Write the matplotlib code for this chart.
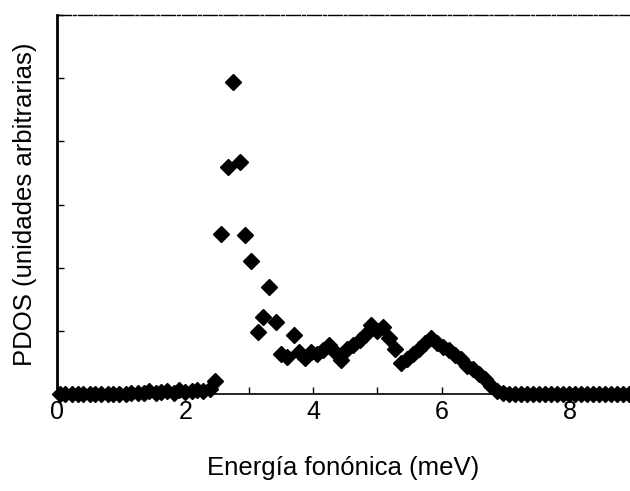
import matplotlib
matplotlib.use('Agg')
import matplotlib.pyplot as plt
from matplotlib.ticker import MultipleLocator

plt.rcParams['font.family'] = ['Liberation Sans', 'DejaVu Sans']

# ---- data (energy in meV, PDOS in arbitrary units) ----
energy = [
    0.04, 0.13, 0.23, 0.32, 0.41, 0.51, 0.60, 0.69, 0.79, 0.88,
    0.97, 1.07, 1.16, 1.26, 1.35, 1.44, 1.54, 1.63, 1.72, 1.82,
    1.91, 2.00, 2.10, 2.19, 2.28, 2.38, 2.47, 2.56, 2.66, 2.75,
    2.85, 2.94, 3.03, 3.13, 3.22, 3.31, 3.41, 3.50, 3.59, 3.69,
    3.78, 3.87, 3.97, 4.06, 4.15, 4.25, 4.34, 4.43, 4.53, 4.62,
    4.72, 4.81, 4.90, 5.00, 5.09, 5.18, 5.28, 5.37, 5.46, 5.56,
    5.65, 5.74, 5.84, 5.93, 6.02, 6.12, 6.21, 6.30, 6.40, 6.49,
    6.59, 6.68, 6.77, 6.87, 6.96, 7.05, 7.15, 7.24, 7.33, 7.43,
    7.52, 7.61, 7.71, 7.80, 7.89, 7.99, 8.08, 8.17, 8.27, 8.36,
    8.45, 8.55, 8.64, 8.73, 8.83, 8.92,
]
pdos = [
    0.00, 0.00, 0.00, 0.00, 0.00, 0.00, 0.00, 0.00, 0.00, 0.00,
    0.00, 0.00, 0.01, 0.01, 0.02, 0.04, 0.02, 0.03, 0.05, 0.02,
    0.06, 0.03, 0.05, 0.06, 0.04, 0.08, 0.21, 2.54, 3.59, 4.94,
    3.67, 2.52, 2.11, 0.98, 1.22, 1.70, 1.14, 0.63, 0.59, 0.94,
    0.66, 0.57, 0.66, 0.63, 0.70, 0.78, 0.66, 0.54, 0.72, 0.78,
    0.85, 0.94, 1.10, 1.00, 1.06, 0.88, 0.72, 0.49, 0.56, 0.64,
    0.72, 0.80, 0.88, 0.80, 0.74, 0.70, 0.62, 0.55, 0.45, 0.40,
    0.32, 0.24, 0.13, 0.05, 0.01, 0.00, 0.00, 0.00, 0.00, 0.00,
    0.00, 0.00, 0.00, 0.00, 0.00, 0.00, 0.00, 0.00, 0.00, 0.00,
    0.00, 0.00, 0.00, 0.00, 0.00, 0.00,
]

xlabel = 'Energía fonónica (meV)'
ylabel = 'PDOS (unidades arbitrarias)'

fig = plt.figure(figsize=(6.3, 4.91), dpi=100)
ax = fig.add_axes([0.0905, 0.1976, 0.9095, 0.7714])

ax.plot(energy, pdos, linestyle='none', marker='D', markersize=8,
        color='black', clip_on=False, zorder=3)

ax.set_xlim(0, 8.94)
ax.set_ylim(0, 6)

# ticks: labels every 2 meV, marks every 1 meV, unlabeled y ticks
ax.xaxis.set_major_locator(MultipleLocator(2))
ax.xaxis.set_minor_locator(MultipleLocator(1))
ax.yaxis.set_major_locator(MultipleLocator(1))
ax.tick_params(axis='both', which='both', direction='in', length=5,
               width=1.0, colors='black', labelsize=18)
ax.tick_params(axis='x', pad=4)
ax.tick_params(axis='y', labelleft=False)

ax.spines['right'].set_visible(False)
ax.spines['left'].set_linewidth(2.0)
ax.spines['bottom'].set_linewidth(1.2)
ax.spines['top'].set_linewidth(1.0)
ax.spines['top'].set_linestyle((0, (10, 1.5, 2, 1.5)))

ax.set_xlabel(xlabel, fontsize=18.5)
ax.xaxis.set_label_coords(0.5, -0.165)
ax.set_ylabel(ylabel, fontsize=18.5)
ax.yaxis.set_label_coords(-0.035, 0.5)

fig.savefig('out.png', dpi=100)
